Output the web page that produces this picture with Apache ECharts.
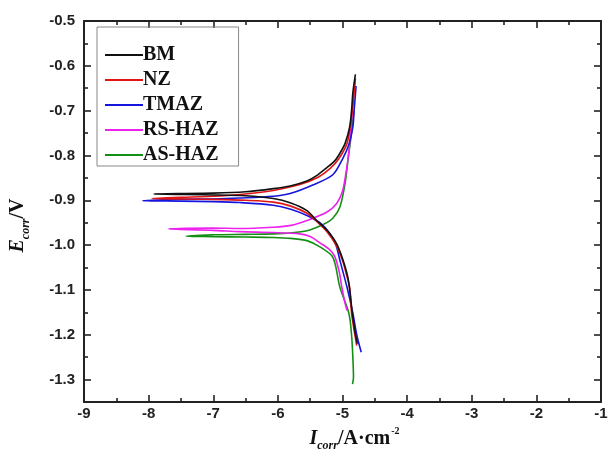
<!DOCTYPE html>
<html>
<head>
<meta charset="utf-8">
<script src="https://cdn.jsdelivr.net/npm/echarts@6/dist/echarts.min.js"></script>
<style>
html,body{margin:0;padding:0;background:#fff;}
#chart{width:608px;height:452px;}
</style>
</head>
<body>
<div id="chart"></div>
<script>
// ---- data (log I, E) : each curve from cathodic end -> Ecorr -> anodic end ----
var seriesNames = ['BM', 'NZ', 'TMAZ', 'RS-HAZ', 'AS-HAZ'];

var bmCathodic = [[-7.92,-0.886],[-7.0,-0.888],[-6.5,-0.890],[-6.07,-0.896],[-5.8,-0.906],[-5.55,-0.923],[-5.40,-0.945],[-5.24,-0.967],[-5.09,-0.997],[-5.0,-1.03],[-4.92,-1.07],[-4.88,-1.11],[-4.85,-1.15],[-4.81,-1.19],[-4.77,-1.22]];
var bmAnodic = [[-7.92,-0.885],[-7.0,-0.884],[-6.5,-0.881],[-6.07,-0.874],[-5.81,-0.868],[-5.55,-0.857],[-5.40,-0.845],[-5.25,-0.828],[-5.12,-0.812],[-5.04,-0.795],[-4.96,-0.773],[-4.89,-0.737],[-4.86,-0.700],[-4.84,-0.660],[-4.80,-0.619]];

var nzCathodic = [[-7.95,-0.896],[-7.0,-0.898],[-6.5,-0.900],[-6.07,-0.904],[-5.8,-0.913],[-5.55,-0.929],[-5.40,-0.947],[-5.24,-0.970],[-5.1,-1.0],[-5.0,-1.034],[-4.94,-1.065],[-4.89,-1.094],[-4.87,-1.13],[-4.86,-1.152],[-4.82,-1.19],[-4.78,-1.224]];
var nzAnodic = [[-7.95,-0.893],[-7.0,-0.891],[-6.59,-0.887],[-6.07,-0.878],[-5.66,-0.865],[-5.37,-0.848],[-5.19,-0.829],[-5.06,-0.808],[-4.93,-0.773],[-4.88,-0.735],[-4.85,-0.700],[-4.82,-0.660],[-4.80,-0.628]];

var tmazCathodic = [[-8.09,-0.901],[-7.5,-0.902],[-7.0,-0.903],[-6.59,-0.905],[-6.07,-0.911],[-5.8,-0.920],[-5.55,-0.934],[-5.35,-0.950],[-5.19,-0.975],[-5.1,-1.0],[-5.04,-1.034],[-4.93,-1.094],[-4.84,-1.152],[-4.78,-1.20],[-4.71,-1.239]];
var tmazAnodic = [[-8.09,-0.899],[-7.5,-0.898],[-7.0,-0.897],[-6.59,-0.895],[-6.07,-0.891],[-5.81,-0.885],[-5.46,-0.866],[-5.15,-0.843],[-5.0,-0.808],[-4.9,-0.775],[-4.84,-0.737],[-4.82,-0.700],[-4.79,-0.645]];

var rsCathodic = [[-7.69,-0.964],[-7.0,-0.967],[-6.59,-0.970],[-6.07,-0.972],[-5.66,-0.975],[-5.5,-0.981],[-5.35,-0.995],[-5.2,-1.01],[-5.12,-1.025],[-5.05,-1.06],[-5.01,-1.094],[-4.96,-1.13],[-4.93,-1.146]];
var rsAnodic = [[-7.69,-0.962],[-7.0,-0.962],[-6.59,-0.963],[-6.07,-0.960],[-5.8,-0.956],[-5.55,-0.945],[-5.24,-0.926],[-5.09,-0.907],[-5.0,-0.880],[-4.94,-0.833],[-4.90,-0.790],[-4.88,-0.759],[-4.84,-0.690],[-4.81,-0.635]];

var asCathodic = [[-7.42,-0.980],[-7.0,-0.981],[-6.5,-0.982],[-6.07,-0.983],[-5.8,-0.985],[-5.55,-0.990],[-5.35,-1.004],[-5.15,-1.027],[-5.04,-1.094],[-4.90,-1.153],[-4.86,-1.20],[-4.84,-1.25],[-4.83,-1.295],[-4.845,-1.31]];
var asAnodic = [[-7.42,-0.978],[-7.0,-0.977],[-6.5,-0.976],[-6.07,-0.975],[-5.81,-0.973],[-5.55,-0.968],[-5.3,-0.954],[-5.15,-0.940],[-5.04,-0.915],[-4.96,-0.862],[-4.91,-0.804],[-4.87,-0.760],[-4.84,-0.720],[-4.82,-0.700]];

var xMajorTicks = [-9, -8, -7, -6, -5, -4, -3, -2, -1];
var yMajorTicks = [-1.3, -1.2, -1.1, -1.0, -0.9, -0.8, -0.7, -0.6, -0.5];
var yMinorTicks = [-1.25, -1.15, -1.05, -0.95, -0.85, -0.75, -0.65, -0.55];

var colors = ['#111111', '#e01515', '#1515dd', '#ee22ee', '#139013'];

function joinCurve(cath, anod) {
  return cath.slice().reverse().concat(anod.slice(1));
}
var curves = [
  joinCurve(bmCathodic, bmAnodic),
  joinCurve(nzCathodic, nzAnodic),
  joinCurve(tmazCathodic, tmazAnodic),
  joinCurve(rsCathodic, rsAnodic),
  joinCurve(asCathodic, asAnodic)
];

var axisColor = '#222';
var labelFont = {fontFamily: 'Liberation Sans', fontWeight: 'bold', fontSize: 15, color: '#222'};

function xAx(pos, showLabel) {
  return {
    type: 'value', position: pos, min: -9, max: -1, interval: 1,
    axisLine: {show: true, onZero: false, lineStyle: {color: axisColor, width: 2}},
    axisTick: {show: true, inside: true, length: 7, lineStyle: {color: axisColor, width: 1.6}},
    minorTick: {show: true, splitNumber: 2, length: 4, lineStyle: {color: axisColor, width: 1.6}},
    axisLabel: Object.assign({show: showLabel, margin: 4, formatter: function (v) { return String(v); }}, labelFont),
    splitLine: {show: false}, minorSplitLine: {show: false}
  };
}
function yAx(pos, ticks, len, showLabel, showLine) {
  return {
    type: 'value', position: pos, min: -1.35, max: -0.5,
    axisLine: {show: showLine, onZero: false, lineStyle: {color: axisColor, width: 2}},
    axisTick: {show: true, inside: true, length: len, customValues: ticks, lineStyle: {color: axisColor, width: 1.6}},
    axisLabel: Object.assign({show: showLabel, margin: 9, customValues: ticks, formatter: function (v) { return v.toFixed(1); }}, labelFont),
    splitLine: {show: false}
  };
}

var xBottom = xAx('bottom', true);
xBottom.name = '{i|I}{sub|corr}{n|/A·cm}{sup|-2}';
xBottom.nameLocation = 'middle';
xBottom.nameGap = 24;
xBottom.nameTextStyle = {
  padding: [0, 0, 0, 24],
  rich: {
    i: {fontFamily: 'Liberation Serif', fontWeight: 'bold', fontStyle: 'italic', fontSize: 20, color: '#111'},
    sub: {fontFamily: 'Liberation Serif', fontWeight: 'bold', fontStyle: 'italic', fontSize: 12, color: '#111', padding: [14, 0, 0, 0]},
    n: {fontFamily: 'Liberation Serif', fontWeight: 'bold', fontSize: 20, color: '#111'},
    sup: {fontFamily: 'Liberation Serif', fontWeight: 'bold', fontSize: 10, color: '#111', padding: [0, 0, 16, 1]}
  }
};

var yLeft = yAx('left', yMajorTicks, 7, true, true);
yLeft.name = '{i|E}{sub|corr}{n|/V}';
yLeft.nameLocation = 'middle';
yLeft.nameGap = 52;
yLeft.nameTextStyle = {
  padding: [0, 28, 0, 0],
  rich: {
    i: {fontFamily: 'Liberation Serif', fontWeight: 'bold', fontStyle: 'italic', fontSize: 20, color: '#111'},
    sub: {fontFamily: 'Liberation Serif', fontWeight: 'bold', fontStyle: 'italic', fontSize: 12, color: '#111', padding: [16, 0, 0, 0]},
    n: {fontFamily: 'Liberation Serif', fontWeight: 'bold', fontSize: 20, color: '#111'}
  }
};

var option = {
  animation: false,
  backgroundColor: '#ffffff',
  color: colors,
  grid: {left: 84, right: 7, top: 21, bottom: 50, containLabel: false, outerBoundsMode: 'none'},
  legend: {
    orient: 'vertical', left: 97, top: 27,
    padding: [18, 20, 1, 8], itemGap: 5, itemWidth: 38, itemHeight: 2,
    icon: 'rect',
    borderColor: '#888', borderWidth: 1,
    data: seriesNames,
    textStyle: {fontFamily: 'Liberation Serif', fontWeight: 'bold', fontSize: 20, color: '#111', padding: [0, 0, 0, -5]}
  },
  xAxis: [xBottom, xAx('top', false)],
  yAxis: [
    yLeft,
    yAx('left', yMinorTicks, 4, false, false),
    yAx('right', yMajorTicks, 7, false, true),
    yAx('right', yMinorTicks, 4, false, false)
  ],
  series: seriesNames.map(function (n, i) {
    return {
      name: n, type: 'line', xAxisIndex: 0, yAxisIndex: 0,
      data: curves[i], showSymbol: false, symbol: 'none', smooth: 0.3,
      lineStyle: {width: 1.6, color: colors[i]}, itemStyle: {color: colors[i]},
      z: 10 - i
    };
  })
};

var chart = echarts.init(document.getElementById('chart'), null, {renderer: 'canvas'});
chart.setOption(option);
</script>
</body>
</html>
